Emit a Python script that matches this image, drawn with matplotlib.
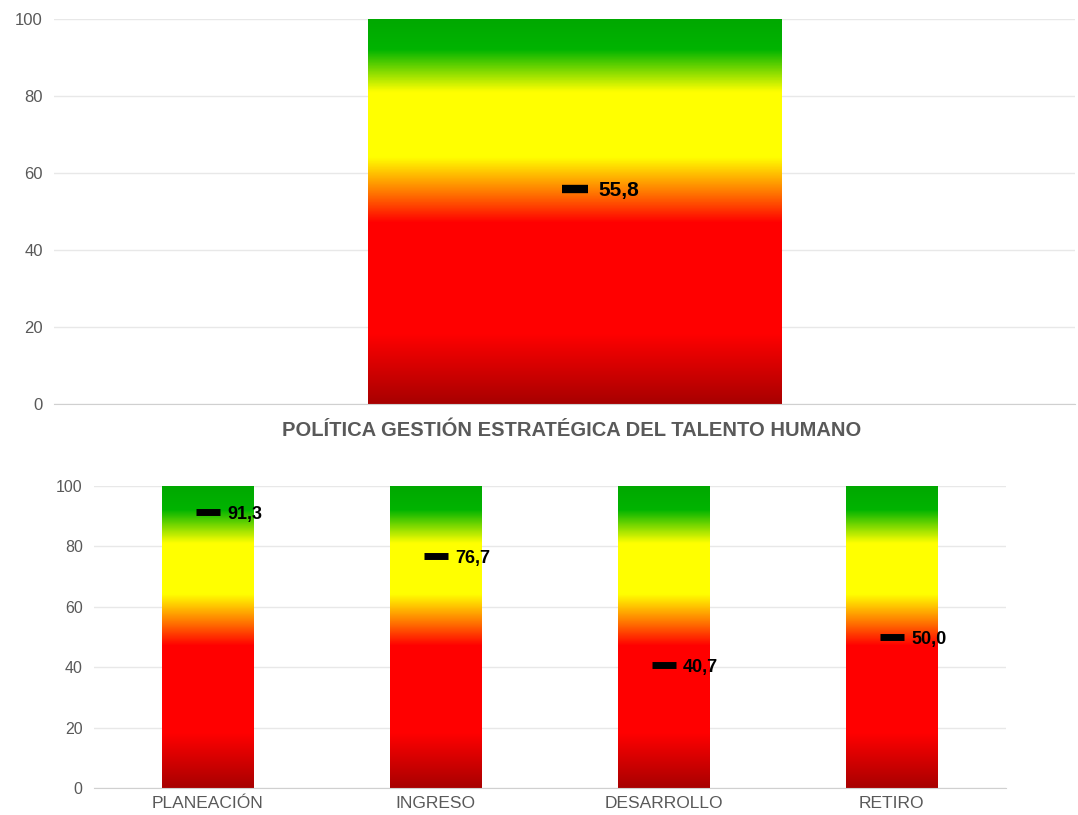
import numpy as np
import matplotlib.pyplot as plt
from matplotlib.colors import LinearSegmentedColormap

plt.rcParams['font.family'] = ['Liberation Sans', 'DejaVu Sans']

# data
total_label = ['TOTAL']
total_value = [55.8]
categories = ['PLANEACIÓN', 'INGRESO', 'DESARROLLO', 'RETIRO']
values = [91.3, 76.7, 40.7, 50.0]
title = 'POLÍTICA GESTIÓN ESTRATÉGICA DEL TALENTO HUMANO'

# red -> orange -> yellow -> green scale (0 to 100)
stops = [(0.00, '#a80000'), (0.18, '#ff0000'), (0.47, '#ff0000'), (0.55, '#ff7a00'),
         (0.64, '#ffff00'), (0.81, '#ffff00'), (0.92, '#00b400'), (1.00, '#00a800')]
cmap = LinearSegmentedColormap.from_list('semaforo', stops)
grad = np.linspace(0, 1, 256).reshape(-1, 1)

gray = '#595959'


def gradient_bars(ax, xs, width):
    bars = ax.bar(xs, [100] * len(xs), width=width, color='none', zorder=2)
    for b in bars:
        x0, w = b.get_x(), b.get_width()
        ax.imshow(grad, cmap=cmap, origin='lower', aspect='auto',
                  extent=(x0, x0 + w, 0, 100), zorder=1)
    return bars


def style(ax, fs):
    ax.set_ylim(0, 100)
    ax.set_yticks(range(0, 101, 20))
    ax.grid(axis='y', color='#e8e8e8', lw=1)
    ax.set_axisbelow(True)
    for s in ['top', 'right', 'left']:
        ax.spines[s].set_visible(False)
    ax.spines['bottom'].set_color('#d0d0d0')
    ax.tick_params(axis='both', length=0, colors=gray, labelsize=fs, pad=8)


fig = plt.figure(figsize=(10.78, 8.15), dpi=100)

# top chart
ax1 = fig.add_axes([0.050, 0.504, 0.947, 0.473])
gradient_bars(ax1, [0], 0.405)
ax1.set_xlim(-0.51, 0.49)
ax1.plot([0], total_value, marker='_', color='black', ms=19, mew=6, ls='none', zorder=3)
ax1.annotate(f'{total_value[0]:.1f}'.replace('.', ','), (0, total_value[0]),
             xytext=(17, -1), textcoords='offset points', va='center',
             fontsize=15, fontweight='bold')
style(ax1, 12)
ax1.set_xticks([])

fig.text(0.530, 0.472, title, ha='center', va='center', fontsize=14.5,
         fontweight='bold', color=gray)

# bottom chart
ax2 = fig.add_axes([0.087, 0.033, 0.846, 0.371])
x = np.arange(len(categories))
gradient_bars(ax2, x, 0.4)
ax2.set_xlim(-0.5, len(categories) - 0.5)
ax2.plot(x, values, marker='_', color='black', ms=17, mew=5, ls='none', zorder=3)
for xi, v in zip(x, values):
    ax2.annotate(f'{v:.1f}'.replace('.', ','), (xi, v), xytext=(14, -2),
                 textcoords='offset points', va='center', fontsize=13,
                 fontweight='bold')
style(ax2, 11.5)
ax2.set_xticks(x)
ax2.set_xticklabels(categories, fontsize=12.5)
ax2.tick_params(axis='x', pad=6)

fig.savefig('out.png', dpi=100)
